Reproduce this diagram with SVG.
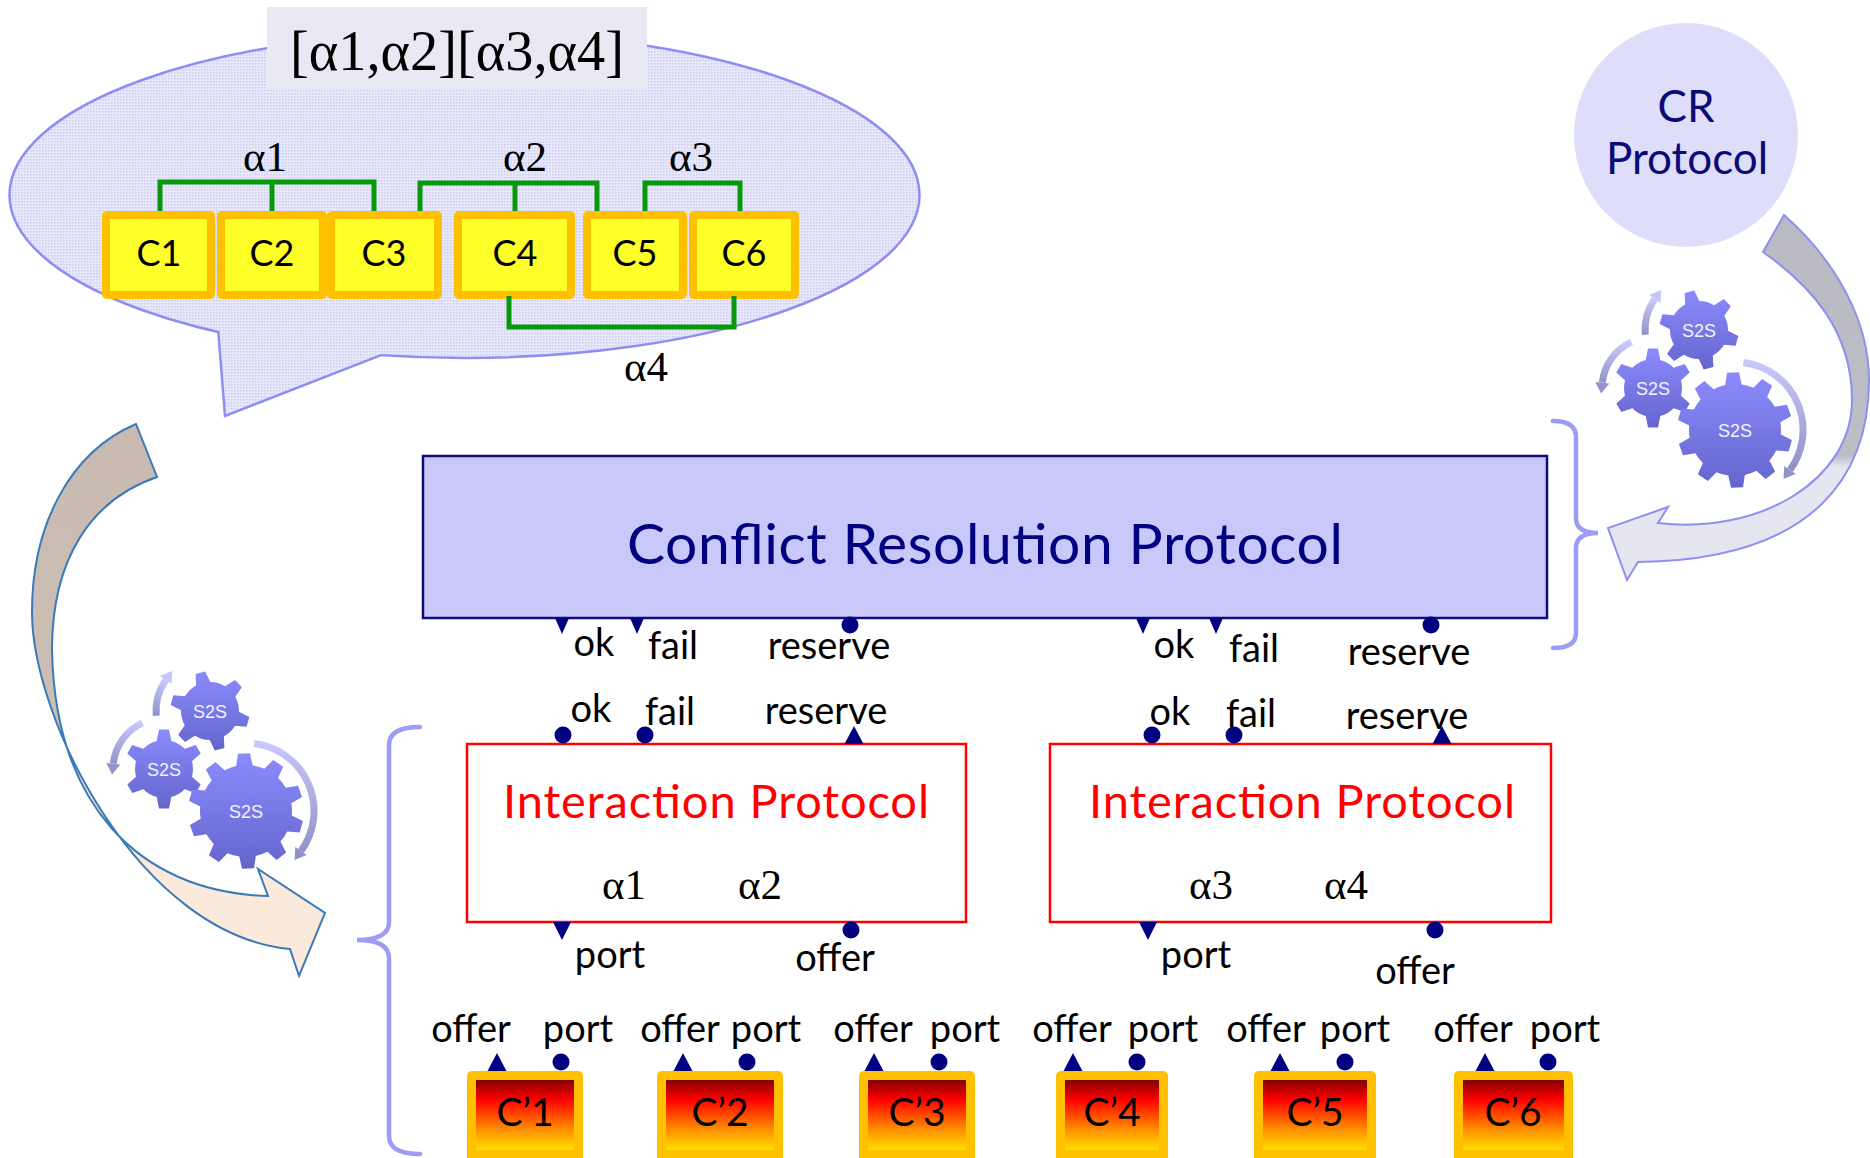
<svg xmlns="http://www.w3.org/2000/svg" width="1870" height="1158" viewBox="0 0 1870 1158">
  <style>
    .sans { font-family: Lato, "Open Sans", "DejaVu Sans", sans-serif; }
    .serif { font-family: "Liberation Serif", "DejaVu Serif", serif; }
    .lbl { font-family: Lato, "Open Sans", sans-serif; font-size: 38px; fill: #000; text-anchor: middle; }
    .alpha { font-family: "Liberation Serif", serif; font-size: 43px; fill: #000; text-anchor: middle; }
    .cname { font-family: Lato, "Open Sans", sans-serif; font-size: 36px; fill: #000; text-anchor: middle; }
    .cpname { font-family: Lato, "Open Sans", sans-serif; font-size: 39px; fill: #000; text-anchor: middle; }
    .port { fill: #000080; }
    .link { fill: none; stroke: #079907; stroke-width: 5; }
    .brace { fill: none; stroke: #9c9cf5; stroke-width: 4.5; stroke-linecap: round; }
    .s2s { font-family: "Liberation Sans", Arial, sans-serif; font-size: 18px; fill: #f4f4ff; text-anchor: middle; }
    .cOuter { fill: #ffc000; }
    .cInner { fill: #ffff2a; }
    .bubbleLine { stroke: #8e8ef2; stroke-width: 2.5; }
  </style>
  <defs>
    <pattern id="dots" width="3" height="3" patternUnits="userSpaceOnUse">
      <rect width="3" height="3" fill="#e9e9fb"/>
      <rect width="1.5" height="1.5" fill="#c9cbf1"/>
    </pattern>
    <linearGradient id="cpGrad" x1="0" y1="0" x2="0" y2="1">
      <stop offset="0" stop-color="#850000"/>
      <stop offset="0.28" stop-color="#ff0000"/>
      <stop offset="0.7" stop-color="#ff8c00"/>
      <stop offset="1" stop-color="#ffe000"/>
    </linearGradient>
    <linearGradient id="gearGrad" x1="0" y1="0" x2="0" y2="1">
      <stop offset="0" stop-color="#8c8cff"/>
      <stop offset="1" stop-color="#6464cc"/>
    </linearGradient>
    <linearGradient id="arcGrad" x1="0" y1="0" x2="0" y2="1">
      <stop offset="0" stop-color="#c8c8fc"/>
      <stop offset="1" stop-color="#9292c8"/>
    </linearGradient>
    <linearGradient id="leftArrowGrad" gradientUnits="userSpaceOnUse" x1="0" y1="424" x2="0" y2="976">
      <stop offset="0" stop-color="#c8bab0"/>
      <stop offset="0.58" stop-color="#ccbfb4"/>
      <stop offset="0.6" stop-color="#fbe9db"/>
      <stop offset="1" stop-color="#fbe9db"/>
    </linearGradient>
    <linearGradient id="rightArrowGrad" gradientUnits="userSpaceOnUse" x1="0" y1="215" x2="0" y2="580">
      <stop offset="0" stop-color="#babac2"/>
      <stop offset="0.66" stop-color="#bdbdc6"/>
      <stop offset="0.69" stop-color="#e6e6f1"/>
      <stop offset="1" stop-color="#e6e6f1"/>
    </linearGradient>

    <!-- gear outlines: round body plus trapezoid teeth -->
    <polygon id="tooth6" points="-7.5,-27 7.5,-27 5,-39.5 -5,-39.5"/>
    <polygon id="tooth10" points="-8.5,-44 8.5,-44 6,-57.5 -6,-57.5"/>
    <clipPath id="gear6">
      <circle r="29"/>
      <use href="#tooth6"/>
      <use href="#tooth6" transform="rotate(60)"/>
      <use href="#tooth6" transform="rotate(120)"/>
      <use href="#tooth6" transform="rotate(180)"/>
      <use href="#tooth6" transform="rotate(240)"/>
      <use href="#tooth6" transform="rotate(300)"/>
    </clipPath>
    <clipPath id="gear6r">
      <circle r="29"/>
      <use href="#tooth6" transform="rotate(-14)"/>
      <use href="#tooth6" transform="rotate(46)"/>
      <use href="#tooth6" transform="rotate(106)"/>
      <use href="#tooth6" transform="rotate(166)"/>
      <use href="#tooth6" transform="rotate(226)"/>
      <use href="#tooth6" transform="rotate(286)"/>
    </clipPath>
    <clipPath id="gear10">
      <circle r="46"/>
      <use href="#tooth10" transform="rotate(-2)"/>
      <use href="#tooth10" transform="rotate(34)"/>
      <use href="#tooth10" transform="rotate(70)"/>
      <use href="#tooth10" transform="rotate(106)"/>
      <use href="#tooth10" transform="rotate(142)"/>
      <use href="#tooth10" transform="rotate(178)"/>
      <use href="#tooth10" transform="rotate(214)"/>
      <use href="#tooth10" transform="rotate(250)"/>
      <use href="#tooth10" transform="rotate(286)"/>
      <use href="#tooth10" transform="rotate(322)"/>
    </clipPath>

    <!-- three meshing S2S gears with rotation arcs, origin at the middle gear -->
    <g id="gearCluster">
      <path d="M90.3,-25.5 A68,68 0 0 1 137,82" fill="none" stroke="url(#arcGrad)" stroke-width="7"/>
      <polygon points="142.7,86.1 130.5,90.9 131.3,77.9" fill="#9292c8"/>
      <path d="M-21.6,-46.2 A51,51 0 0 0 -50.7,-5.3" fill="none" stroke="url(#arcGrad)" stroke-width="7"/>
      <polygon points="-57.7,-6 -51.9,5.6 -43.7,-4.6" fill="#9494cc"/>
      <path d="M-7.8,-53.3 A54,54 0 0 1 1.8,-89" fill="none" stroke="url(#arcGrad)" stroke-width="7"/>
      <polygon points="-3.9,-93 8.1,-98 7.5,-85" fill="#c4c4fa"/>
      <g transform="translate(46,-58)">
        <rect x="-42" y="-42" width="84" height="84" fill="url(#gearGrad)" clip-path="url(#gear6r)"/>
        <text class="s2s" y="6.5">S2S</text>
      </g>
      <g>
        <rect x="-42" y="-42" width="84" height="84" fill="url(#gearGrad)" clip-path="url(#gear6)"/>
        <text class="s2s" y="6.5">S2S</text>
      </g>
      <g transform="translate(82,42)">
        <rect x="-60" y="-60" width="120" height="120" fill="url(#gearGrad)" clip-path="url(#gear10)"/>
        <text class="s2s" y="6.5">S2S</text>
      </g>
    </g>

    <!-- port glyphs -->
    <path id="triDownS" d="M-7,0 L7,0 L0,16 Z"/>
    <path id="triDown" d="M-9,0 L9,0 L0,18 Z"/>
    <path id="triUp" d="M-9.5,0 L9.5,0 L0,-18 Z"/>
    <circle id="dot" r="8.5"/>
  </defs>

  <rect width="1870" height="1158" fill="#ffffff"/>

  <!-- speech bubble with the C components: ellipse, then the tail patched over its rim -->
  <g id="bubble">
    <ellipse class="bubbleLine" cx="464.5" cy="195" rx="455" ry="163" fill="url(#dots)"/>
    <polygon points="219.5,324 219.5,333 225,416 381,355 381,347 300,338" fill="url(#dots)"/>
    <polyline class="bubbleLine" points="218.3,332 225,416 381,355.2" fill="none" stroke-linejoin="miter"/>
    <rect x="267" y="7" width="380" height="83" fill="#e9e9f3"/>
    <text class="serif" x="457" y="70" font-size="58" text-anchor="middle" textLength="334" lengthAdjust="spacingAndGlyphs">[α1,α2][α3,α4]</text>
  </g>

  <g id="c1"><rect class="cOuter" x="102" y="211" width="113" height="88" rx="5"/><rect class="cInner" x="110" y="219" width="97" height="72"/><text class="cname" x="159" y="266">C1</text></g>
  <g id="c2"><rect class="cOuter" x="217" y="211" width="110" height="88" rx="5"/><rect class="cInner" x="225" y="219" width="94" height="72"/><text class="cname" x="272" y="266">C2</text></g>
  <g id="c3"><rect class="cOuter" x="327" y="211" width="115" height="88" rx="5"/><rect class="cInner" x="335" y="219" width="99" height="72"/><text class="cname" x="384" y="266">C3</text></g>
  <g id="c4"><rect class="cOuter" x="454" y="211" width="121" height="88" rx="5"/><rect class="cInner" x="462" y="219" width="105" height="72"/><text class="cname" x="515" y="266">C4</text></g>
  <g id="c5"><rect class="cOuter" x="583" y="211" width="104" height="88" rx="5"/><rect class="cInner" x="591" y="219" width="88" height="72"/><text class="cname" x="635" y="266">C5</text></g>
  <g id="c6"><rect class="cOuter" x="689" y="211" width="110" height="88" rx="5"/><rect class="cInner" x="697" y="219" width="94" height="72"/><text class="cname" x="744" y="266">C6</text></g>

  <!-- interaction connectors between components -->
  <g id="connectors">
    <path class="link" d="M160,211 V182 H374 V211 M272,182 V211"/>
    <path class="link" d="M420,211 V183 H597 V211 M515,183 V211"/>
    <path class="link" d="M645,211 V183 H740 V211"/>
    <path class="link" d="M509,296 V327 H734 V296"/>
  </g>
  <g id="alpha-labels">
    <text class="alpha" x="265" y="171">α1</text>
    <text class="alpha" x="525" y="171">α2</text>
    <text class="alpha" x="691" y="171">α3</text>
    <text class="alpha" x="646" y="381">α4</text>
  </g>

  <!-- CR protocol bubble -->
  <g id="cr-circle">
    <circle cx="1686" cy="135" r="112" fill="#dedefa"/>
    <text class="sans" x="1686" y="122" font-size="44" fill="#0a0a78" text-anchor="middle">CR</text>
    <text class="sans" x="1687" y="174" font-size="44" fill="#0a0a78" text-anchor="middle">Protocol</text>
  </g>

  <!-- curved transformation arrows -->
  <g id="arrow-right">
    <path d="M1784,215 C1835,260 1869,320 1869,380 C1869,470 1820,560 1638,562 L1627,580 L1608,528 L1668,507 L1658,523 C1760,535 1852,480 1852,400 C1852,330 1810,285 1763,252 Z" fill="url(#rightArrowGrad)" stroke="#8f8ff2" stroke-width="2" stroke-linejoin="miter"/>
  </g>
  <g id="arrow-left">
    <path d="M136,424 C70,452 32,525 32,612 C32,720 140,935 290,949 L299,976 L325,913 L258,869 L268,896 C135,892 55,800 52,650 C52,560 90,500 157,477 Z" fill="url(#leftArrowGrad)" stroke="#3b7ab8" stroke-width="2"/>
  </g>

  <g id="gears-right"><use href="#gearCluster" transform="translate(1653,388)"/></g>
  <g id="gears-left"><use href="#gearCluster" transform="translate(164,769)"/></g>

  <!-- grouping braces -->
  <g id="brace-right"><path class="brace" d="M1553,421 Q1576,421 1576,437 L1576,518 Q1576,533 1598,533 Q1576,533 1576,548 L1576,633 Q1576,648 1553,648"/></g>
  <g id="brace-left"><path class="brace" d="M420,727 Q389,727 389,745 L389,922 Q389,940 357,940 Q389,940 389,958 L389,1136 Q389,1154 420,1154"/></g>

  <!-- conflict resolution protocol -->
  <g id="cr-box">
    <rect x="423" y="456" width="1124" height="162" fill="#c8c8fa" stroke="#0c0c80" stroke-width="2.5"/>
    <text class="sans" x="985" y="564" font-size="57" fill="#000080" text-anchor="middle" textLength="716">Conflict Resolution Protocol</text>
    <use class="port" href="#triDownS" x="562" y="618"/>
    <use class="port" href="#triDownS" x="637" y="618"/>
    <use class="port" href="#dot" x="850" y="625"/>
    <use class="port" href="#triDownS" x="1143" y="618"/>
    <use class="port" href="#triDownS" x="1216" y="618"/>
    <use class="port" href="#dot" x="1431" y="625"/>
    <text class="lbl" x="594" y="656">ok</text>
    <text class="lbl" x="673" y="659">fail</text>
    <text class="lbl" x="829" y="659">reserve</text>
    <text class="lbl" x="1174" y="658">ok</text>
    <text class="lbl" x="1254" y="662">fail</text>
    <text class="lbl" x="1409" y="665">reserve</text>
  </g>

  <!-- interaction protocols -->
  <g id="ip1">
    <rect x="467" y="744" width="499" height="178" fill="#ffffff" stroke="#ff0000" stroke-width="2.5"/>
    <text class="sans" x="716" y="818" font-size="47" fill="#ff0000" text-anchor="middle" textLength="426">Interaction Protocol</text>
    <text class="alpha" x="624" y="899">α1</text>
    <text class="alpha" x="760" y="899">α2</text>
    <use class="port" href="#dot" x="563" y="735"/>
    <use class="port" href="#dot" x="645" y="735"/>
    <use class="port" href="#triUp" x="854" y="744"/>
    <use class="port" href="#triDown" x="562" y="922"/>
    <use class="port" href="#dot" x="851" y="930"/>
    <text class="lbl" x="591" y="722">ok</text>
    <text class="lbl" x="670" y="725">fail</text>
    <text class="lbl" x="826" y="724">reserve</text>
    <text class="lbl" x="610" y="968">port</text>
    <text class="lbl" x="835" y="971">offer</text>
  </g>
  <g id="ip2">
    <rect x="1050" y="744" width="501" height="178" fill="#ffffff" stroke="#ff0000" stroke-width="2.5"/>
    <text class="sans" x="1302" y="818" font-size="47" fill="#ff0000" text-anchor="middle" textLength="426">Interaction Protocol</text>
    <text class="alpha" x="1211" y="899">α3</text>
    <text class="alpha" x="1346" y="899">α4</text>
    <use class="port" href="#dot" x="1152" y="735"/>
    <use class="port" href="#dot" x="1234" y="735"/>
    <use class="port" href="#triUp" x="1442" y="744"/>
    <use class="port" href="#triDown" x="1148" y="922"/>
    <use class="port" href="#dot" x="1435" y="930"/>
    <text class="lbl" x="1170" y="725">ok</text>
    <text class="lbl" x="1251" y="727">fail</text>
    <text class="lbl" x="1407" y="729">reserve</text>
    <text class="lbl" x="1196" y="968">port</text>
    <text class="lbl" x="1415" y="984">offer</text>
  </g>

  <!-- refined components C'1..C'6 -->
  <g id="cp1"><rect class="cOuter" x="467" y="1071" width="116" height="95" rx="5"/><rect x="476" y="1080" width="98" height="70" fill="url(#cpGrad)"/><text class="cpname" x="525" y="1126">C’1</text>
    <use class="port" href="#triUp" x="497" y="1071"/><use class="port" href="#dot" x="561" y="1062"/>
    <text class="lbl" x="471" y="1042">offer</text><text class="lbl" x="578" y="1042">port</text></g>
  <g id="cp2"><rect class="cOuter" x="657" y="1071" width="126" height="95" rx="5"/><rect x="666" y="1080" width="108" height="70" fill="url(#cpGrad)"/><text class="cpname" x="720" y="1126">C’2</text>
    <use class="port" href="#triUp" x="683" y="1071"/><use class="port" href="#dot" x="747" y="1062"/>
    <text class="lbl" x="680" y="1042">offer</text><text class="lbl" x="766" y="1042">port</text></g>
  <g id="cp3"><rect class="cOuter" x="859" y="1071" width="116" height="95" rx="5"/><rect x="868" y="1080" width="98" height="70" fill="url(#cpGrad)"/><text class="cpname" x="917" y="1126">C’3</text>
    <use class="port" href="#triUp" x="874" y="1071"/><use class="port" href="#dot" x="939" y="1062"/>
    <text class="lbl" x="873" y="1042">offer</text><text class="lbl" x="965" y="1042">port</text></g>
  <g id="cp4"><rect class="cOuter" x="1056" y="1071" width="112" height="95" rx="5"/><rect x="1065" y="1080" width="94" height="70" fill="url(#cpGrad)"/><text class="cpname" x="1112" y="1126">C’4</text>
    <use class="port" href="#triUp" x="1073" y="1071"/><use class="port" href="#dot" x="1137" y="1062"/>
    <text class="lbl" x="1072" y="1042">offer</text><text class="lbl" x="1163" y="1042">port</text></g>
  <g id="cp5"><rect class="cOuter" x="1254" y="1071" width="122" height="95" rx="5"/><rect x="1263" y="1080" width="104" height="70" fill="url(#cpGrad)"/><text class="cpname" x="1315" y="1126">C’5</text>
    <use class="port" href="#triUp" x="1280" y="1071"/><use class="port" href="#dot" x="1345" y="1062"/>
    <text class="lbl" x="1266" y="1042">offer</text><text class="lbl" x="1355" y="1042">port</text></g>
  <g id="cp6"><rect class="cOuter" x="1454" y="1071" width="119" height="95" rx="5"/><rect x="1463" y="1080" width="101" height="70" fill="url(#cpGrad)"/><text class="cpname" x="1513" y="1126">C’6</text>
    <use class="port" href="#triUp" x="1485" y="1071"/><use class="port" href="#dot" x="1548" y="1062"/>
    <text class="lbl" x="1473" y="1042">offer</text><text class="lbl" x="1565" y="1042">port</text></g>
</svg>
